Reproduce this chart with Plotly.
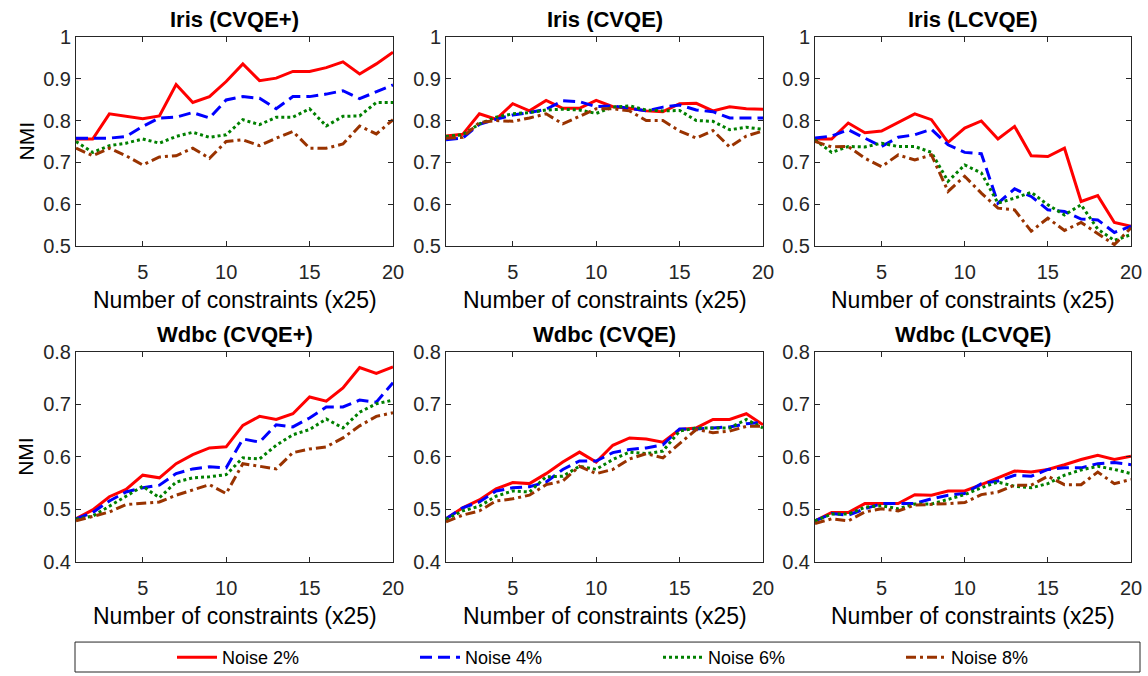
import plotly.graph_objects as go

x_vals = list(range(1, 21))

titles = ["Iris (CVQE+)", "Iris (CVQE)", "Iris (LCVQE)",
          "Wdbc (CVQE+)", "Wdbc (CVQE)", "Wdbc (LCVQE)"]
series_names = ["Noise 2%", "Noise 4%", "Noise 6%", "Noise 8%"]
x_title = "Number of constraints (x25)"
y_title = "NMI"

# Iris (CVQE+)
iris_cvqep_n2 = [0.756, 0.756, 0.816, 0.810, 0.804, 0.811, 0.886, 0.843, 0.857, 0.893,
                 0.935, 0.895, 0.901, 0.917, 0.917, 0.926, 0.940, 0.911, 0.935, 0.963]
iris_cvqep_n4 = [0.758, 0.758, 0.758, 0.762, 0.786, 0.806, 0.808, 0.819, 0.806, 0.849,
                 0.857, 0.853, 0.828, 0.857, 0.857, 0.863, 0.871, 0.852, 0.869, 0.885]
iris_cvqep_n6 = [0.750, 0.724, 0.740, 0.746, 0.756, 0.746, 0.762, 0.772, 0.760, 0.766,
                 0.802, 0.790, 0.808, 0.808, 0.828, 0.787, 0.810, 0.811, 0.843, 0.843]
iris_cvqep_n8 = [0.734, 0.716, 0.734, 0.716, 0.694, 0.713, 0.716, 0.734, 0.710, 0.750,
                 0.754, 0.740, 0.758, 0.774, 0.734, 0.734, 0.744, 0.787, 0.768, 0.802]

# Iris (CVQE)
iris_cvqe_n2 = [0.763, 0.767, 0.816, 0.803, 0.840, 0.823, 0.848, 0.829, 0.829, 0.848,
                0.833, 0.829, 0.823, 0.821, 0.840, 0.841, 0.823, 0.833, 0.828, 0.827]
iris_cvqe_n4 = [0.754, 0.758, 0.791, 0.803, 0.813, 0.819, 0.827, 0.847, 0.845, 0.833,
                0.835, 0.829, 0.823, 0.832, 0.837, 0.825, 0.821, 0.806, 0.806, 0.806]
iris_cvqe_n6 = [0.762, 0.766, 0.792, 0.808, 0.816, 0.819, 0.825, 0.827, 0.825, 0.817,
                0.832, 0.835, 0.825, 0.823, 0.824, 0.800, 0.798, 0.778, 0.784, 0.779]
iris_cvqe_n8 = [0.758, 0.760, 0.795, 0.800, 0.798, 0.806, 0.816, 0.792, 0.810, 0.828,
                0.828, 0.823, 0.800, 0.800, 0.775, 0.758, 0.776, 0.737, 0.763, 0.775]

# Iris (LCVQE)
iris_lcvqe_n2 = [0.756, 0.756, 0.794, 0.771, 0.775, 0.795, 0.816, 0.802, 0.748, 0.782,
                 0.799, 0.756, 0.786, 0.716, 0.714, 0.734, 0.607, 0.621, 0.557, 0.548]
iris_lcvqe_n4 = [0.758, 0.763, 0.778, 0.758, 0.738, 0.760, 0.766, 0.779, 0.742, 0.724,
                 0.721, 0.603, 0.637, 0.619, 0.587, 0.583, 0.565, 0.563, 0.533, 0.548]
iris_lcvqe_n6 = [0.754, 0.724, 0.738, 0.737, 0.746, 0.738, 0.738, 0.724, 0.655, 0.694,
                 0.675, 0.603, 0.615, 0.629, 0.599, 0.575, 0.599, 0.541, 0.514, 0.528]
iris_lcvqe_n8 = [0.750, 0.737, 0.738, 0.710, 0.690, 0.718, 0.706, 0.718, 0.631, 0.667,
                 0.627, 0.591, 0.587, 0.536, 0.567, 0.538, 0.557, 0.530, 0.504, 0.544]

# Wdbc (CVQE+)
wdbc_cvqep_n2 = [0.482, 0.499, 0.524, 0.538, 0.565, 0.560, 0.587, 0.604, 0.617, 0.619,
                 0.660, 0.677, 0.671, 0.682, 0.714, 0.706, 0.731, 0.770, 0.759, 0.771]
wdbc_cvqep_n4 = [0.482, 0.494, 0.516, 0.533, 0.541, 0.546, 0.568, 0.577, 0.581, 0.579,
                 0.634, 0.628, 0.661, 0.657, 0.674, 0.695, 0.695, 0.708, 0.704, 0.741]
wdbc_cvqep_n6 = [0.481, 0.487, 0.506, 0.525, 0.544, 0.522, 0.552, 0.560, 0.562, 0.566,
                 0.598, 0.596, 0.622, 0.642, 0.652, 0.672, 0.655, 0.685, 0.701, 0.708]
wdbc_cvqep_n8 = [0.478, 0.486, 0.495, 0.509, 0.511, 0.514, 0.527, 0.537, 0.547, 0.530,
                 0.587, 0.582, 0.577, 0.608, 0.615, 0.619, 0.636, 0.659, 0.677, 0.684]

# Wdbc (CVQE)
wdbc_cvqe_n2 = [0.482, 0.503, 0.518, 0.539, 0.551, 0.549, 0.568, 0.590, 0.609, 0.590,
                0.622, 0.636, 0.634, 0.628, 0.652, 0.655, 0.671, 0.671, 0.682, 0.661]
wdbc_cvqe_n4 = [0.482, 0.503, 0.514, 0.535, 0.541, 0.543, 0.552, 0.576, 0.592, 0.592,
                0.608, 0.614, 0.617, 0.623, 0.653, 0.653, 0.655, 0.657, 0.663, 0.666]
wdbc_cvqe_n6 = [0.481, 0.497, 0.506, 0.525, 0.535, 0.533, 0.562, 0.563, 0.582, 0.576,
                0.595, 0.609, 0.606, 0.611, 0.649, 0.655, 0.655, 0.655, 0.671, 0.655]
wdbc_cvqe_n8 = [0.476, 0.489, 0.497, 0.516, 0.520, 0.527, 0.547, 0.554, 0.582, 0.568,
                0.576, 0.596, 0.606, 0.598, 0.625, 0.652, 0.646, 0.649, 0.658, 0.658]

# Wdbc (LCVQE)
wdbc_lcvqe_n2 = [0.478, 0.494, 0.494, 0.511, 0.511, 0.511, 0.528, 0.527, 0.535, 0.535,
                 0.547, 0.560, 0.573, 0.571, 0.576, 0.585, 0.595, 0.603, 0.595, 0.601]
wdbc_lcvqe_n4 = [0.478, 0.492, 0.489, 0.501, 0.511, 0.511, 0.511, 0.520, 0.527, 0.530,
                 0.549, 0.554, 0.565, 0.563, 0.576, 0.579, 0.579, 0.587, 0.589, 0.585]
wdbc_lcvqe_n6 = [0.478, 0.491, 0.491, 0.504, 0.507, 0.501, 0.510, 0.510, 0.519, 0.528,
                 0.541, 0.552, 0.544, 0.541, 0.549, 0.565, 0.575, 0.582, 0.576, 0.568]
wdbc_lcvqe_n8 = [0.473, 0.482, 0.478, 0.495, 0.501, 0.497, 0.508, 0.509, 0.511, 0.513,
                 0.528, 0.533, 0.546, 0.546, 0.563, 0.547, 0.547, 0.571, 0.549, 0.557]

panel_data = [
    [iris_cvqep_n2, iris_cvqep_n4, iris_cvqep_n6, iris_cvqep_n8],
    [iris_cvqe_n2, iris_cvqe_n4, iris_cvqe_n6, iris_cvqe_n8],
    [iris_lcvqe_n2, iris_lcvqe_n4, iris_lcvqe_n6, iris_lcvqe_n8],
    [wdbc_cvqep_n2, wdbc_cvqep_n4, wdbc_cvqep_n6, wdbc_cvqep_n8],
    [wdbc_cvqe_n2, wdbc_cvqe_n4, wdbc_cvqe_n6, wdbc_cvqe_n8],
    [wdbc_lcvqe_n2, wdbc_lcvqe_n4, wdbc_lcvqe_n6, wdbc_lcvqe_n8],
]

top_yticks = [0.5, 0.6, 0.7, 0.8, 0.9, 1.0]
top_yticklabels = ["0.5", "0.6", "0.7", "0.8", "0.9", "1"]
bot_yticks = [0.4, 0.5, 0.6, 0.7, 0.8]
bot_yticklabels = ["0.4", "0.5", "0.6", "0.7", "0.8"]
x_ticks = [5, 10, 15, 20]

# styles
colors = ["#FF0000", "#0000FF", "#008000", "#993300"]
dashes = ["solid", "12px,6px", "3px,3px", "10px,4px,3px,4px"]

W, H = 1148, 676
col_px = [(76, 393), (446, 763), (815, 1131)]
row_px = [(36.7, 246.7), (352.3, 562.7)]

FONT = "Liberation Sans, Arial, Helvetica, sans-serif"

fig = go.Figure()
layout = {}
annotations = []

for i in range(6):
    r, c = divmod(i, 3)
    ax = "" if i == 0 else str(i + 1)
    xd = [col_px[c][0] / W, col_px[c][1] / W]
    yd = [1 - row_px[r][1] / H, 1 - row_px[r][0] / H]
    for k in range(4):
        fig.add_trace(go.Scatter(
            x=x_vals, y=panel_data[i][k], mode="lines",
            name=series_names[k], legendgroup=series_names[k],
            showlegend=(i == 0),
            line=dict(color=colors[k], width=3, dash=dashes[k]),
            xaxis="x" + ax, yaxis="y" + ax,
        ))
    if r == 0:
        yt, ytl, yr = top_yticks, top_yticklabels, [0.5, 1.0]
    else:
        yt, ytl, yr = bot_yticks, bot_yticklabels, [0.4, 0.8]
    layout["xaxis" + ax] = dict(
        domain=xd, anchor="y" + ax, range=[1, 20], tickvals=x_ticks,
        ticktext=[str(v) for v in x_ticks],
        ticks="inside", ticklen=5, tickcolor="#262626", tickwidth=1,
        showline=True, linecolor="#262626", linewidth=1, mirror="ticks",
        showgrid=False, zeroline=False, automargin=False,
        ticklabelstandoff=8,
        tickfont=dict(size=20, color="#262626", family=FONT),
    )
    layout["yaxis" + ax] = dict(
        domain=yd, anchor="x" + ax, range=yr, tickvals=yt, ticktext=ytl,
        ticks="inside", ticklen=5, tickcolor="#262626", tickwidth=1,
        showline=True, linecolor="#262626", linewidth=1, mirror="ticks",
        showgrid=False, zeroline=False, automargin=False,
        tickfont=dict(size=20, color="#262626", family=FONT),
    )
    cx = (xd[0] + xd[1]) / 2
    # panel title
    annotations.append(dict(
        text="<b>" + titles[i] + "</b>", xref="paper", yref="paper",
        x=cx, y=1 - (row_px[r][0] - 17) / H,
        xanchor="center", yanchor="middle", showarrow=False,
        font=dict(size=22, color="#000000", family=FONT),
    ))
    # x axis title
    annotations.append(dict(
        text=x_title, xref="paper", yref="paper",
        x=cx, y=1 - (row_px[r][1] + 54) / H,
        xanchor="center", yanchor="middle", showarrow=False,
        font=dict(size=23, color="#000000", family=FONT),
    ))
    if c == 0:
        annotations.append(dict(
            text=y_title, xref="paper", yref="paper", textangle=-90,
            x=26 / W, y=1 - (row_px[r][0] + row_px[r][1]) / 2 / H,
            xanchor="center", yanchor="middle", showarrow=False,
            font=dict(size=21, color="#000000", family=FONT),
        ))

fig.update_layout(**layout)
fig.update_layout(
    width=W, height=H,
    margin=dict(l=0, r=0, t=0, b=0),
    paper_bgcolor="white", plot_bgcolor="white",
    font=dict(family=FONT, color="#000000"),
    annotations=annotations,
    shapes=[dict(type="rect", xref="paper", yref="paper",
                 x0=75 / W, x1=1140 / W, y0=1 - 673 / H, y1=1 - 643 / H,
                 line=dict(color="#262626", width=1), fillcolor="rgba(0,0,0,0)")],
    legend=dict(orientation="h", x=172 / W, y=1 - 658 / H,
                xanchor="left", yanchor="middle",
                entrywidth=188, entrywidthmode="pixels",
                itemwidth=40, bgcolor="rgba(0,0,0,0)", borderwidth=0,
                font=dict(size=18, family=FONT, color="#000000"),
                tracegroupgap=0),
)

fig.write_html("out.html")
